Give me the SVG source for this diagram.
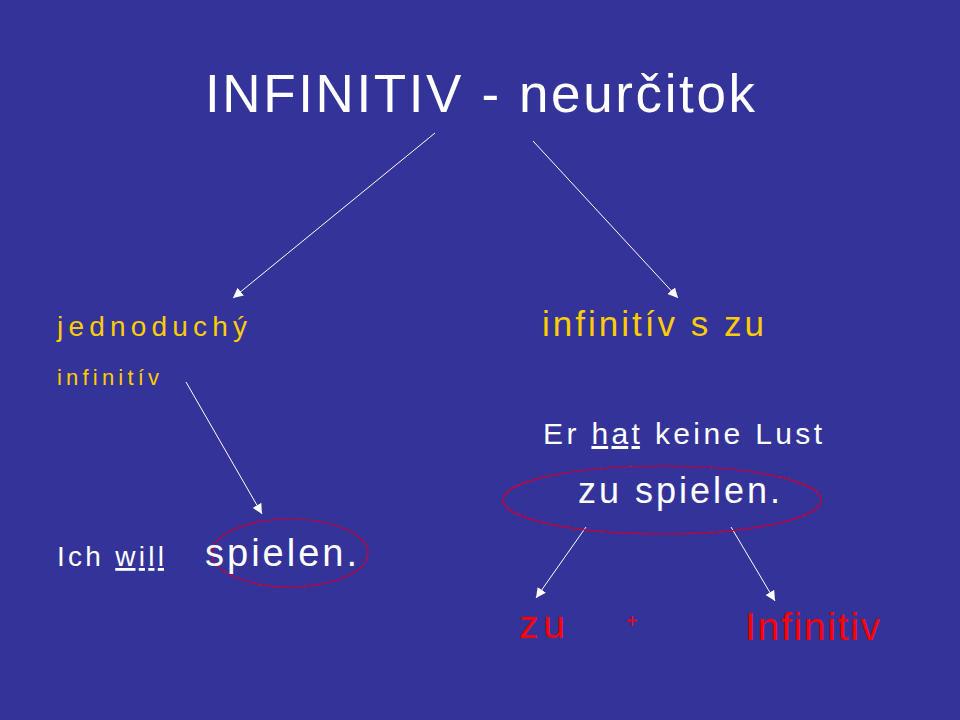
<svg xmlns="http://www.w3.org/2000/svg" width="960" height="720" viewBox="0 0 960 720">
<style>
text{font-family:"Liberation Sans",Arial,sans-serif}
.w{fill:#fff}.y{fill:#ffcc00}.r{fill:#ff0000}
.c line{stroke:#fff;stroke-width:1}
.e{fill:none;stroke:#cc0033;stroke-width:1.2}
</style>
<defs><marker id="a" viewBox="0 0 10 10" refX="10" refY="5" markerWidth="10" markerHeight="10" markerUnits="userSpaceOnUse" orient="auto"><path d="M0,0L10,5L0,10z" fill="#fff"/></marker></defs>
<rect width="960" height="720" fill="#333399"/>
<g id="title"><text class="w" x="205" y="112" font-size="53" textLength="550" lengthAdjust="spacing">INFINITIV - neurčitok</text></g>
<g class="c" id="connectors">
<line x1="435" y1="133" x2="233" y2="298" marker-end="url(#a)"/>
<line x1="533" y1="141" x2="678" y2="298" marker-end="url(#a)"/>
<line x1="186" y1="382" x2="262" y2="514" marker-end="url(#a)"/>
<line x1="586" y1="527" x2="536" y2="598" marker-end="url(#a)"/>
<line x1="731" y1="527" x2="775" y2="601" marker-end="url(#a)"/>
</g>
<g id="left"><text class="y" x="57" y="336" font-size="28" textLength="190" lengthAdjust="spacing">jednoduchý</text><text class="y" x="57" y="385" font-size="22" textLength="102" lengthAdjust="spacing">infinitív</text></g>
<g id="right"><text class="y" x="542" y="336" font-size="35" textLength="222" lengthAdjust="spacing">infinitív s zu</text></g>
<g id="er"><text class="w" x="543" y="444" font-size="30" textLength="279" lengthAdjust="spacing">Er <tspan text-decoration="underline">hat</tspan> keine Lust</text></g>
<g id="zuspielen"><ellipse class="e" cx="662" cy="500" rx="159" ry="34"/><text class="w" x="578" y="503" font-size="36" textLength="202" lengthAdjust="spacing">zu spielen.</text></g>
<g id="ich"><text class="w" x="57" y="566" font-size="28" textLength="107" lengthAdjust="spacing">Ich <tspan text-decoration="underline">will</tspan></text></g>
<g id="spielen"><ellipse class="e" cx="290" cy="553" rx="78" ry="34"/><text class="w" x="205" y="566" font-size="38" textLength="152" lengthAdjust="spacing">spielen.</text></g>
<g id="zu"><text class="r" x="519" y="638" font-size="39" textLength="46" lengthAdjust="spacing">zu</text></g>
<g id="plus"><text class="r" x="626" y="628" font-size="20">+</text></g>
<g id="inf"><text class="r" x="745" y="640" font-size="39" textLength="135" lengthAdjust="spacing">Infinitiv</text></g>
</svg>
